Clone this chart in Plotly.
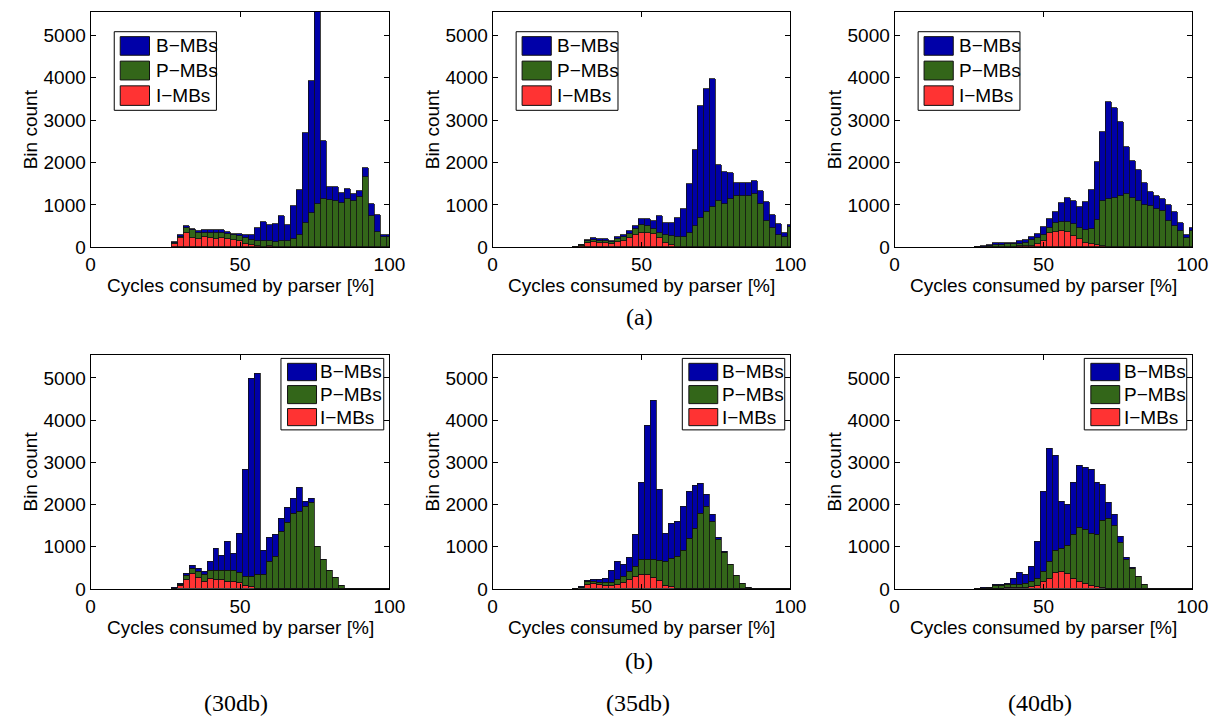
import plotly.graph_objects as go

# ---------------- data (bin centres in % of cycles, counts per MB type) ----------------
bins = [28, 30, 32, 34, 36, 38, 40, 42, 44, 46, 48, 50, 52, 54, 56, 58, 60, 62, 64,
        66, 68, 70, 72, 74, 76, 78, 80, 82, 84, 86, 88, 90, 92, 94, 96, 98, 100]
series_names = ["B\u2212MBs", "P\u2212MBs", "I\u2212MBs"]
panel_labels = ["(30db)", "(35db)", "(40db)"]
x_ticks = [0, 50, 100]
y_ticks = [0, 1000, 2000, 3000, 4000, 5000]

# (a) row
i_a30 = [80, 217, 349, 217, 194, 240, 217, 209, 217, 194, 178, 155, 85, 62, 31, 15, 31, 15, 8,
         0, 0, 0, 0, 0, 0, 0, 0, 0, 0, 0, 0, 0, 0, 0, 0, 0, 0]
p_a30 = [20, 39, 101, 186, 155, 101, 132, 140, 132, 132, 117, 109, 132, 109, 124, 140, 109, 109, 132,
         140, 194, 295, 581, 822, 1031, 1132, 1124, 1100, 1054, 1132, 1100, 1178, 1659, 744, 372, 256, 256]
b_a30 = [20, 39, 62, 31, 39, 62, 54, 54, 54, 46, 31, 46, 78, 124, 310, 442, 387, 419, 596,
         387, 790, 1069, 2108, 3092, 4669, 1387, 294, 334, 233, 255, 148, 155, 217, 279, 403, 39, 39]

i_a35 = [0, 30, 108, 124, 108, 93, 77, 124, 155, 217, 294, 348, 348, 325, 217, 108, 62, 15, 0,
         0, 0, 0, 0, 0, 0, 0, 0, 0, 0, 0, 0, 0, 0, 0, 0, 0, 0]
p_a35 = [0, 20, 31, 46, 47, 62, 47, 70, 85, 108, 132, 178, 163, 101, 131, 186, 201, 225, 240,
         348, 495, 697, 836, 944, 1084, 1029, 1138, 1200, 1223, 1223, 1254, 1022, 619, 449, 294, 255, 488]
b_a35 = [0, 12, 39, 47, 39, 39, 15, 46, 54, 62, 85, 132, 147, 201, 387, 286, 302, 441, 658,
         1152, 1811, 2631, 2887, 3019, 851, 759, 619, 325, 302, 286, 302, 301, 457, 325, 248, 78, 38]

i_a40 = [0, 5, 10, 15, 15, 20, 20, 25, 30, 40, 77, 155, 333, 371, 395, 371, 279, 201, 108,
         77, 46, 23, 0, 0, 0, 0, 0, 0, 0, 0, 0, 0, 0, 0, 0, 0, 0]
p_a40 = [0, 10, 25, 35, 45, 50, 50, 65, 75, 130, 140, 139, 131, 194, 193, 217, 263, 248, 302,
         349, 589, 1060, 1130, 1160, 1200, 1250, 1160, 1090, 1006, 975, 898, 851, 619, 511, 387, 217, 387]
b_a40 = [0, 16, 27, 43, 33, 38, 30, 49, 65, 70, 93, 186, 194, 271, 465, 581, 557, 511, 650,
         928, 1385, 1626, 2299, 2122, 1757, 1126, 876, 744, 511, 341, 302, 279, 372, 317, 178, 77, 77]

# (b) row
i_b30 = [15, 78, 218, 366, 265, 179, 249, 233, 218, 179, 171, 156, 78, 62, 20, 0, 0, 0, 0,
         0, 0, 0, 0, 0, 0, 0, 0, 0, 0, 0, 0, 0, 0, 0, 0, 0, 0]
p_b30 = [5, 22, 109, 116, 140, 163, 187, 210, 225, 249, 257, 225, 225, 226, 314, 342, 638, 778, 1353,
         1571, 1789, 1836, 1960, 2054, 995, 684, 443, 280, 70, 15, 0, 0, 0, 0, 0, 0, 0]
b_b30 = [19, 32, 31, 70, 77, 70, 210, 522, 358, 692, 404, 926, 2513, 4691, 4777, 576, 575, 505, 319,
         366, 358, 568, 117, 77, 16, 0, 0, 0, 0, 0, 0, 0, 0, 0, 0, 0, 0]

i_b35 = [0, 25, 109, 132, 101, 78, 70, 93, 148, 218, 296, 342, 342, 265, 187, 78, 54, 15, 0,
         0, 0, 0, 0, 0, 0, 0, 0, 0, 0, 0, 0, 0, 0, 0, 0, 0, 0]
p_b35 = [0, 15, 62, 47, 62, 70, 86, 133, 140, 194, 225, 343, 350, 427, 482, 576, 670, 763, 918,
         1198, 1424, 1774, 1961, 1595, 1167, 856, 576, 311, 132, 39, 0, 0, 0, 0, 0, 0, 0]
b_b35 = [0, 14, 31, 47, 63, 109, 287, 420, 295, 327, 763, 1828, 3175, 3774, 1688, 669, 824, 817, 1043,
         1113, 1019, 731, 264, 163, 47, 31, 0, 0, 0, 0, 0, 0, 0, 0, 0, 0, 0]

i_b40 = [0, 5, 8, 15, 20, 25, 30, 35, 40, 60, 90, 171, 249, 389, 405, 366, 249, 179, 117,
         78, 47, 31, 15, 0, 0, 0, 0, 0, 0, 0, 0, 0, 0, 0, 0, 0, 0]
p_b40 = [0, 15, 22, 55, 65, 75, 70, 75, 90, 110, 150, 241, 389, 521, 560, 669, 1050, 1276, 1283,
         1245, 1229, 1587, 1658, 1502, 1105, 685, 482, 296, 101, 16, 0, 0, 0, 0, 0, 0, 0]
b_b40 = [0, 10, 9, 23, 24, 32, 141, 279, 212, 351, 873, 1883, 2684, 2249, 1104, 972, 1214, 1455, 1471,
         1493, 1253, 864, 373, 248, 124, 62, 16, 0, 0, 0, 0, 0, 0, 0, 0, 0, 0]

# ---------------- styling ----------------
COL_B = "#0000A8"
COL_P = "#336619"
COL_I = "#FF3333"
EDGE = "#111111"
SANS = "Liberation Sans, Arial, sans-serif"
SERIF = "Liberation Serif, Times New Roman, serif"
FS = 19

W, H = 1222, 723
col_px = [(79, 383), (488, 791), (897, 1200)]
row_px = [(4, 243), (352, 590)]

panels = [
    (i_a30, p_a30, b_a30), (i_a35, p_a35, b_a35), (i_a40, p_a40, b_a40),
    (i_b30, p_b30, b_b30), (i_b35, p_b35, b_b35), (i_b40, p_b40, b_b40),
]

fig = go.Figure()
layout = dict(
    width=W, height=H, margin=dict(l=0, r=0, t=0, b=0),
    paper_bgcolor="white", plot_bgcolor="white",
    barmode="stack", bargap=0, showlegend=False,
    font=dict(family=SANS, size=FS, color="black"),
)
shapes = []
annotations = []

for k, (iv, pv, bv) in enumerate(panels):
    n = k + 1
    r, c = divmod(k, 3)
    xa = "x" if n == 1 else f"x{n}"
    ya = "y" if n == 1 else f"y{n}"
    for vals, name, col in ((iv, series_names[2], COL_I), (pv, series_names[1], COL_P), (bv, series_names[0], COL_B)):
        fig.add_trace(go.Bar(
            x=bins, y=vals, width=2, name=name, xaxis=xa, yaxis=ya,
            marker=dict(color=col, line=dict(color=EDGE, width=0.8)),
        ))
    x0, x1 = col_px[c]
    t, b = row_px[r]
    axis_common = dict(
        showline=True, linecolor="black", linewidth=1, mirror="ticks",
        ticks="inside", ticklen=5, tickcolor="black", tickwidth=1,
        showgrid=False, zeroline=False,
        tickfont=dict(family=SANS, size=FS, color="black"),
    )
    layout["xaxis" if n == 1 else f"xaxis{n}"] = dict(
        domain=[x0 / W, x1 / W], range=[0, 100], anchor=ya,
        tickvals=x_ticks, ticktext=[str(v) for v in x_ticks], **axis_common)
    layout["yaxis" if n == 1 else f"yaxis{n}"] = dict(
        domain=[1 - b / H, 1 - t / H], range=[0, 5550], anchor=xa,
        tickvals=y_ticks, ticktext=[str(v) for v in y_ticks], **axis_common)

    # axis titles
    annotations.append(dict(text="Cycles consumed by parser [%]", xref="paper", yref="paper",
                            x=(x0 + x1) / 2 / W, y=1 - (b + 39) / H,
                            xanchor="center", yanchor="middle", showarrow=False,
                            font=dict(family=SANS, size=FS)))
    annotations.append(dict(text="Bin count", xref="paper", yref="paper",
                            x=(x0 - 61) / W, y=1 - (t + b) / 2 / H, textangle=-90,
                            xanchor="center", yanchor="middle", showarrow=False,
                            font=dict(family=SANS, size=FS)))

    # legend box (MATLAB style) drawn in axis-domain coordinates
    xr = f"{xa} domain"
    yr = f"{ya} domain"
    if r == 0:
        box = (0.079, 0.421, 0.582, 0.916)
        sw = (0.099, 0.197)
        tx = 0.211
        rows = [(0.816, 0.895), (0.711, 0.791), (0.603, 0.686)]
    else:
        box = (0.637, 0.981, 0.679, 0.984)
        sw = (0.659, 0.756)
        tx = 0.762
        rows = [(0.889, 0.963), (0.791, 0.868), (0.697, 0.770)]
    shapes.append(dict(type="rect", xref=xr, yref=yr, x0=box[0], x1=box[1], y0=box[2], y1=box[3],
                       line=dict(color="black", width=1), fillcolor="white", layer="above"))
    for (ya0, ya1), name, col in zip(rows, series_names, (COL_B, COL_P, COL_I)):
        shapes.append(dict(type="rect", xref=xr, yref=yr, x0=sw[0], x1=sw[1], y0=ya0, y1=ya1,
                           line=dict(color=EDGE, width=1), fillcolor=col, layer="above"))
        annotations.append(dict(text=name, xref=xr, yref=yr, x=tx, y=(ya0 + ya1) / 2,
                                xanchor="left", yanchor="middle", showarrow=False,
                                font=dict(family=SANS, size=FS)))

# sub-figure captions
annotations.append(dict(text="(a)", xref="paper", yref="paper", x=637 / W, y=1 - 314 / H,
                        showarrow=False, xanchor="center", yanchor="middle",
                        font=dict(family=SERIF, size=24)))
annotations.append(dict(text="(b)", xref="paper", yref="paper", x=637 / W, y=1 - 663 / H,
                        showarrow=False, xanchor="center", yanchor="middle",
                        font=dict(family=SERIF, size=24)))
for c, lab in enumerate(panel_labels):
    x0, x1 = col_px[c]
    annotations.append(dict(text=lab, xref="paper", yref="paper", x=((x0 + x1) / 2 - 4) / W,
                            y=1 - 706 / H, showarrow=False, xanchor="center", yanchor="middle",
                            font=dict(family=SERIF, size=24)))

layout["shapes"] = shapes
layout["annotations"] = annotations
fig.update_layout(**layout)
fig.write_html("out.html")
